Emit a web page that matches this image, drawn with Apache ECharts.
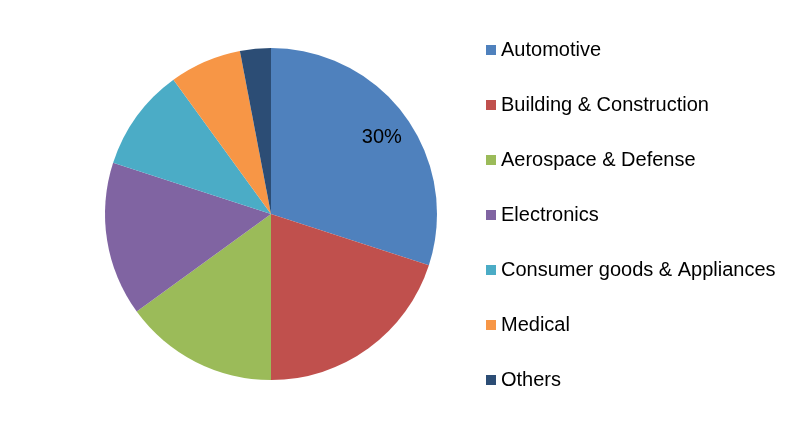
<!DOCTYPE html>
<html><head><meta charset="utf-8">
<script src="https://cdn.jsdelivr.net/npm/echarts@6/dist/echarts.min.js"></script>
<style>html,body{margin:0;padding:0;background:#fff}#c{width:800px;height:429px}</style>
</head><body><div id="c"></div>
<script>
const categories = ["Automotive","Building & Construction","Aerospace & Defense","Electronics","Consumer goods & Appliances","Medical","Others"];
const values = [30,20,15,15,10,7,3];
const colors = ["#4F81BD","#C0504D","#9BBB59","#8064A2","#4BACC6","#F79646","#2C4D75"];
const labelled = ["Automotive"];

const chart = echarts.init(document.getElementById('c'), null, {renderer:'canvas'});
const data = categories.map((n,i)=>({name:n, value:values[i]}));
chart.setOption({
  animation:false,
  color: colors,
  legend:{
    orient:'vertical', left:481, top:35,
    icon:'rect', itemWidth:10, itemHeight:10, itemGap:35,
    textStyle:{fontFamily:'Liberation Sans, Arial, sans-serif', fontSize:20, color:'#000', lineHeight:20},
    data: categories
  },
  series:[
    {type:'pie', center:[271,214], radius:[0,166], startAngle:90, clockwise:true,
     silent:true, label:{show:false}, labelLine:{show:false},
     itemStyle:{borderWidth:0}, data:data},
    {type:'pie', center:[271,214], radius:[102,166], startAngle:90, clockwise:true,
     silent:true, labelLine:{show:false},
     itemStyle:{color:'rgba(0,0,0,0)', borderWidth:0},
     label:{show:true, position:'inside', offset:[0,4], fontFamily:'Liberation Sans, Arial, sans-serif', fontSize:20, color:'#000',
       formatter:p=> labelled.includes(p.name) ? p.value+'%' : ''},
     data:data}
  ]
});
</script></body></html>
